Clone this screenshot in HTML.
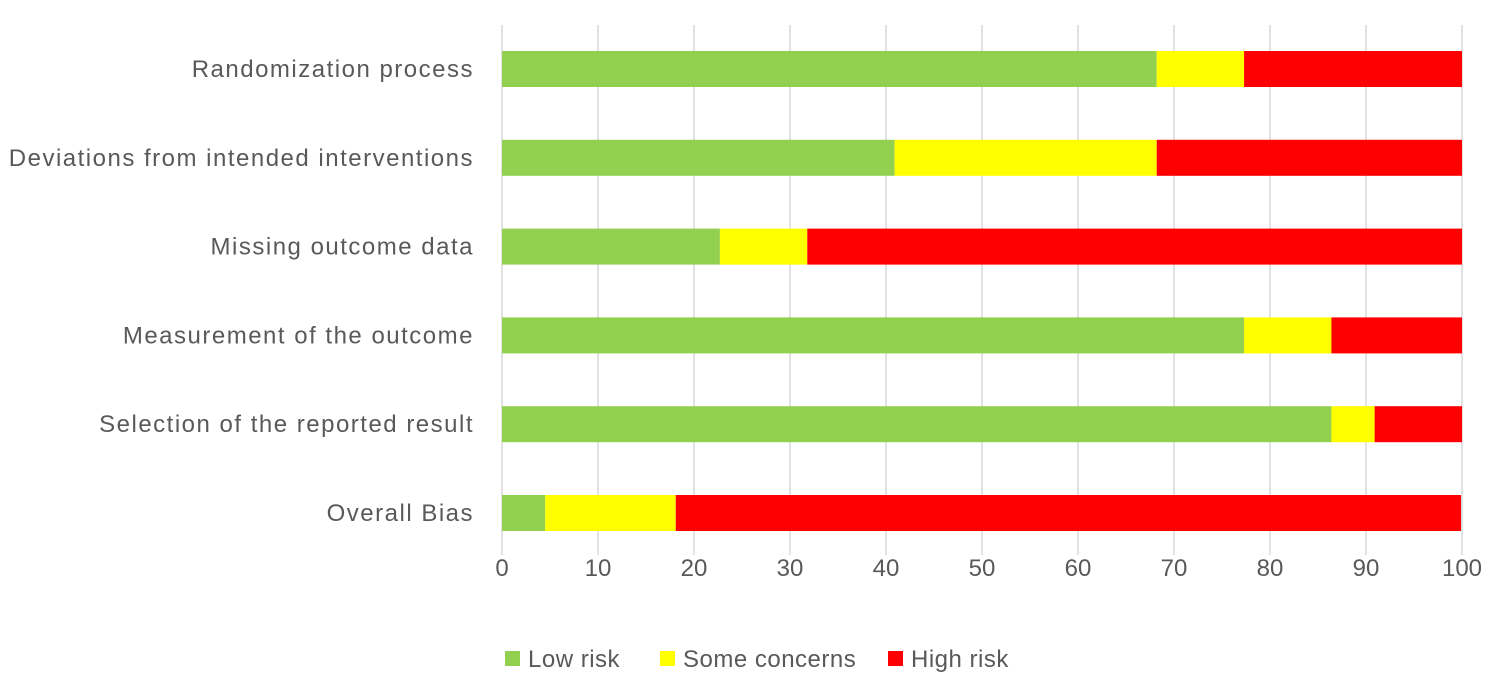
<!DOCTYPE html>
<html><head><meta charset="utf-8"><style>
body{margin:0;background:#fff;}
svg text{font-family:"Liberation Sans",sans-serif;fill:#595959;}
</style></head><body>
<svg id="chart" width="1500" height="686" xmlns="http://www.w3.org/2000/svg"></svg>
<script>
const categories=["Randomization process","Deviations from intended interventions","Missing outcome data","Measurement of the outcome","Selection of the reported result","Overall Bias"];
const lowRisk=[68.2,40.9,22.7,77.3,86.4,4.5];
const someConcerns=[9.1,27.3,9.1,9.1,4.5,13.6];
const highRisk=[22.7,31.8,68.2,13.6,9.1,81.8];
const xTicks=[0,10,20,30,40,50,60,70,80,90,100];
const seriesNames=["Low risk","Some concerns","High risk"];
const colors=["#92d050","#ffff00","#ff0000"];
const svg=document.getElementById('chart');
const NS="http://www.w3.org/2000/svg";
const x=v=>502+v*9.6;
const yC=i=>69+i*88.8;
function mk(t,a){const e=document.createElementNS(NS,t);for(const k in a)e.setAttribute(k,a[k]);svg.appendChild(e);return e;}
xTicks.forEach(t=>{
  const g=mk('line',{x1:x(t),x2:x(t),y1:25,y2:555,stroke:'#d9d9d9','stroke-width':1.5});
  
  
  const l=mk('text',{x:x(t),y:576,'text-anchor':'middle','font-size':24});
  l.textContent=t;
  
  
});
const series=[lowRisk,someConcerns,highRisk];
categories.forEach((c,i)=>{
  let acc=0;
  series.forEach((s,j)=>{
    const r=mk('rect',{x:x(acc),y:yC(i)-18,width:s[i]*9.6,height:36,fill:colors[j]});
    
    
    acc+=s[i];
  });
  const l=mk('text',{x:474,y:yC(i)+8,'text-anchor':'end','font-size':24,'letter-spacing':1.5});
  l.textContent=c;
  
  
});
const legX=[505,660,888];
seriesNames.forEach((n,j)=>{
  const r=mk('rect',{x:legX[j],y:651,width:15,height:15,fill:colors[j]});
  
  
  const t=mk('text',{x:legX[j]+23,y:667,'font-size':24,'letter-spacing':0.5});
  t.textContent=n;
  
  
});
</script>
</body></html>
